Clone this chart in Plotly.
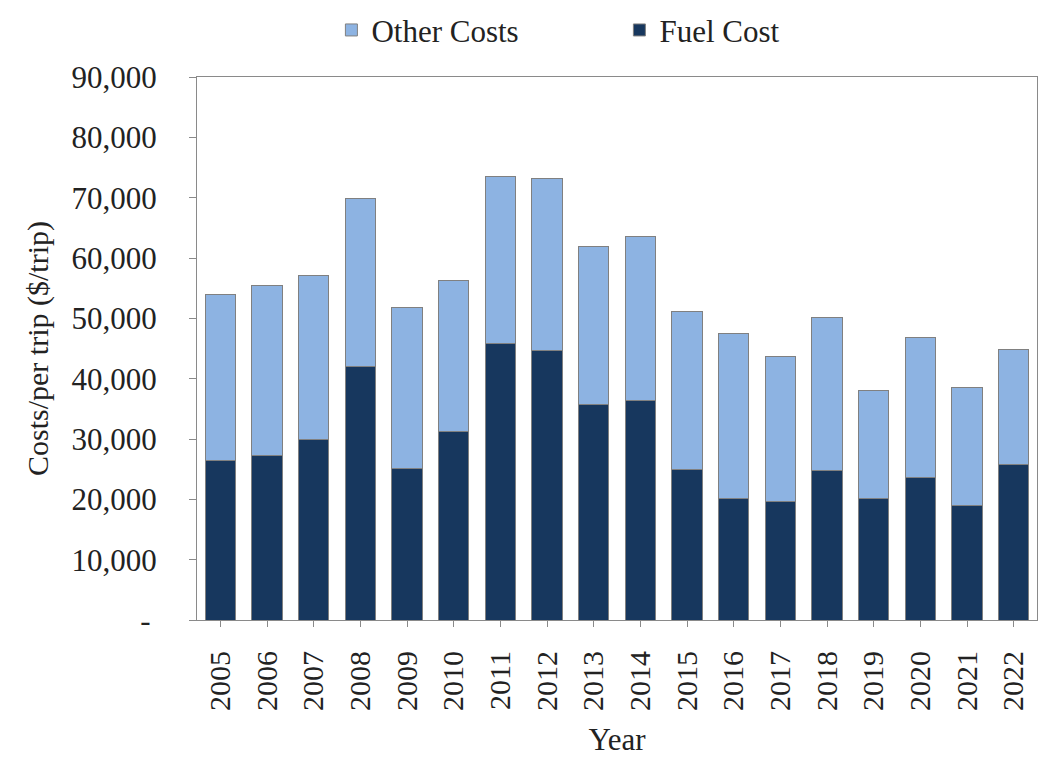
import plotly.graph_objects as go

years = [str(y) for y in range(2005, 2023)]
total_cost = [54000, 55400, 57100, 69900, 51800, 56200, 73500, 73100, 61900,
              63600, 51100, 47500, 43700, 50100, 38100, 46800, 38600, 44900]
fuel_cost = [26400, 27300, 30000, 42000, 25100, 31300, 45900, 44600, 35700,
             36300, 25000, 20100, 19700, 24700, 20100, 23700, 19000, 25700]
other_cost = [t - f for t, f in zip(total_cost, fuel_cost)]

tick_vals = [0, 10000, 20000, 30000, 40000, 50000, 60000, 70000, 80000, 90000]
tick_text = ["-\u2009", "10,000", "20,000", "30,000", "40,000", "50,000",
             "60,000", "70,000", "80,000", "90,000"]

FONT = "Liberation Serif, Times New Roman, serif"
line = dict(color="#808080", width=1)

fig = go.Figure()
fig.add_trace(go.Bar(x=years, y=fuel_cost, name="Fuel Cost",
                     marker=dict(color="#17375E", line=line)))
fig.add_trace(go.Bar(x=years, y=other_cost, name="Other Costs",
                     marker=dict(color="#8DB3E2", line=line)))

fig.update_layout(
    barmode="stack",
    bargap=0.35,
    width=1040, height=762,
    margin=dict(l=197, r=3, t=74, b=142),
    paper_bgcolor="white", plot_bgcolor="white",
    font=dict(family=FONT, size=30, color="#222222"),
    legend=dict(orientation="h", x=0.16, xanchor="left", y=1.086, yanchor="middle",
                bgcolor="rgba(0,0,0,0)",
                traceorder="reversed", font=dict(size=31), itemwidth=30,
                entrywidthmode="pixels", entrywidth=243),
    showlegend=True,
)
fig.update_xaxes(
    title=dict(text="Year", font=dict(size=31), standoff=18),
    tickangle=-90, tickfont=dict(size=30),
    showline=True, linecolor="#8a8a8a", linewidth=1, mirror=True,
    ticks="outside", ticklen=6, tickcolor="#8a8a8a",
    ticklabelstandoff=12,
)
fig.update_yaxes(
    title=dict(text="Costs/per trip ($/trip)", font=dict(size=30), standoff=14),
    range=[0, 90000], tickvals=tick_vals, ticktext=tick_text,
    tickfont=dict(size=31),
    showgrid=False, zeroline=False,
    showline=True, linecolor="#8a8a8a", linewidth=1, mirror=True,
    ticks="outside", ticklen=7, tickcolor="#8a8a8a",
    ticklabelstandoff=26,
)

fig.write_html("out.html", config={"displayModeBar": False},
               post_script="document.body.style.margin='0';")
